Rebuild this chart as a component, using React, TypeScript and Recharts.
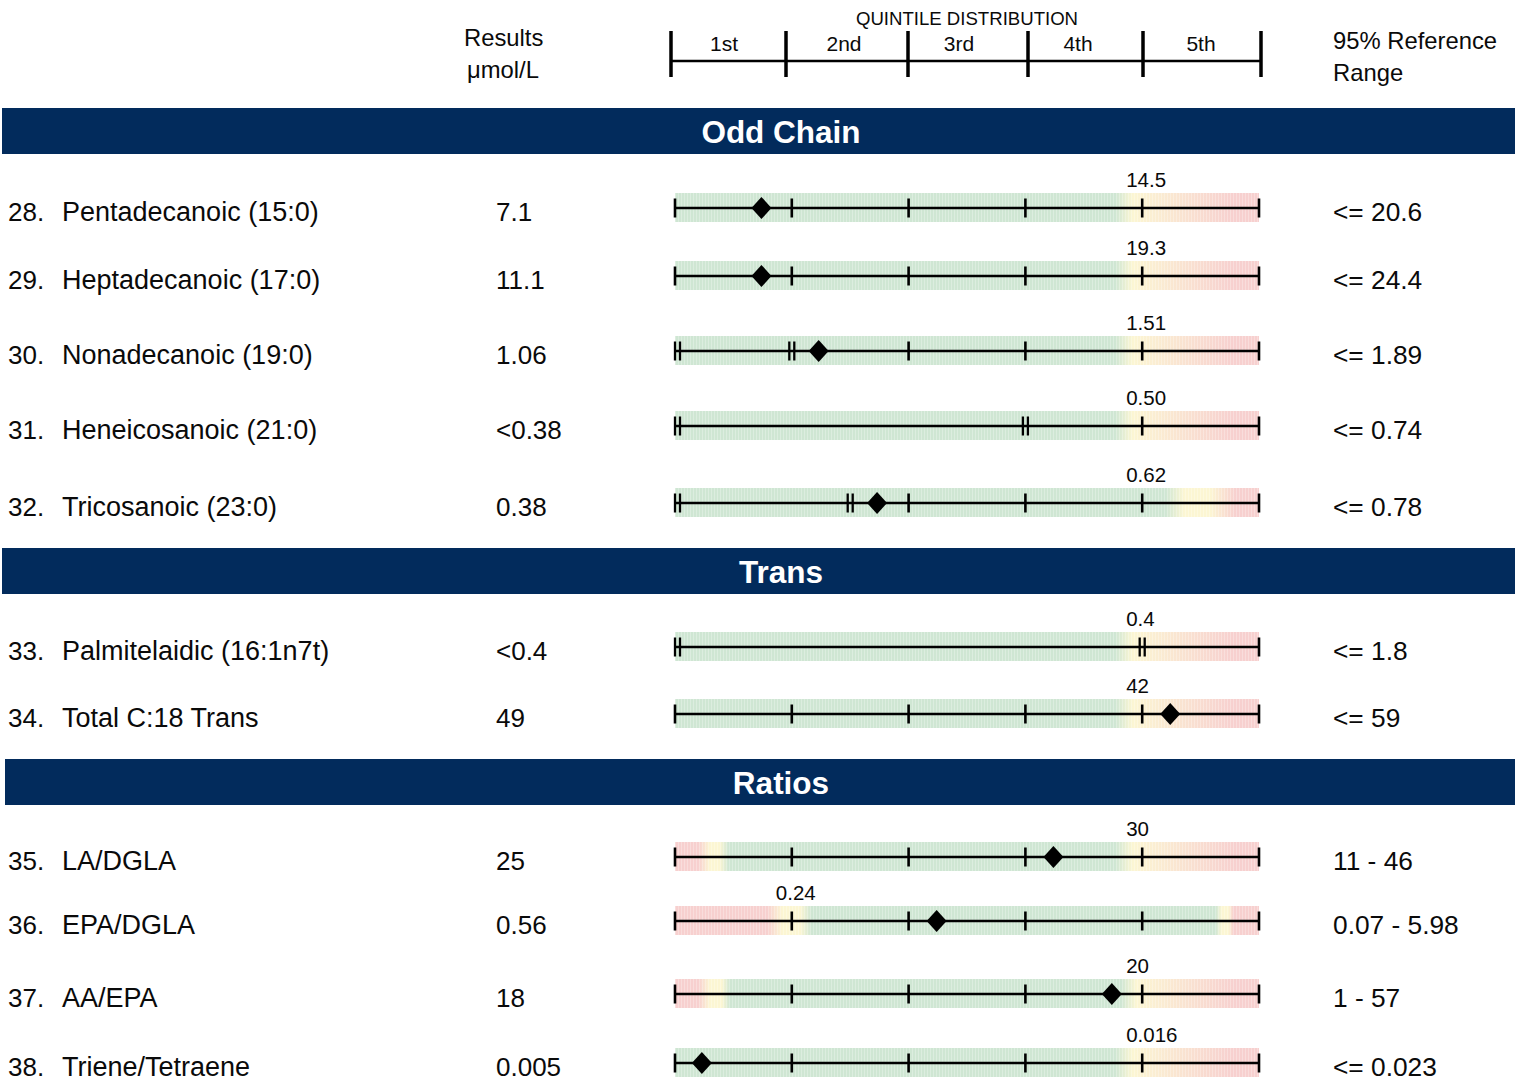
import React from 'react';
import { ComposedChart, XAxis, YAxis, Scatter, ReferenceArea, ReferenceLine } from 'recharts';

// ---------- data ----------
const ROW_NUMBERS = [28, 29, 30, 31, 32, 33, 34, 35, 36, 37, 38];
const ANALYTES = [
  'Pentadecanoic (15:0)',
  'Heptadecanoic (17:0)',
  'Nonadecanoic (19:0)',
  'Heneicosanoic (21:0)',
  'Tricosanoic (23:0)',
  'Palmitelaidic (16:1n7t)',
  'Total C:18 Trans',
  'LA/DGLA',
  'EPA/DGLA',
  'AA/EPA',
  'Triene/Tetraene',
];
const RESULTS = ['7.1', '11.1', '1.06', '<0.38', '0.38', '<0.4', '49', '25', '0.56', '18', '0.005'];
const REF_RANGES = ['<= 20.6', '<= 24.4', '<= 1.89', '<= 0.74', '<= 0.78', '<= 1.8', '<= 59', '11 - 46', '0.07 - 5.98', '1 - 57', '<= 0.023'];
// marker position on the quintile scale (0..5); null = below detection, no marker
const MARKER_POS: (number | null)[] = [0.74, 0.74, 1.23, null, 1.73, null, 4.24, 3.24, 2.24, 3.74, 0.23];
const CUTOFF_LABELS = ['14.5', '19.3', '1.51', '0.50', '0.62', '0.4', '42', '30', '0.24', '20', '0.016'];
const CUTOFF_POS = [4, 4, 4, 4, 4, 4, 4, 4, 1, 4, 4];
// positions of "||" scale breaks
const BREAKS: number[][] = [[], [], [0, 1], [0, 3], [0, 1.5], [0, 4], [], [], [], [], []];
// colour zones along the quintile scale: [position, zone]
type Zone = 'g' | 'y' | 'r';
const ZONES_UPPER: [number, Zone][] = [[0, 'g'], [3.77, 'g'], [3.92, 'y'], [4.78, 'r'], [5, 'r']];
const ZONES_TRICOS: [number, Zone][] = [[0, 'g'], [4.2, 'g'], [4.36, 'y'], [4.58, 'y'], [4.8, 'r'], [5, 'r']];
const ZONES_LADGLA: [number, Zone][] = [[0, 'r'], [0.2, 'r'], [0.3, 'y'], [0.38, 'y'], [0.46, 'g'], [3.77, 'g'], [3.92, 'y'], [4.8, 'r'], [5, 'r']];
const ZONES_EPADGLA: [number, Zone][] = [[0, 'r'], [0.79, 'r'], [0.92, 'y'], [1.07, 'y'], [1.17, 'g'], [4.63, 'g'], [4.68, 'y'], [4.74, 'y'], [4.78, 'r'], [5, 'r']];
const ZONES_AAEPA: [number, Zone][] = [[0, 'r'], [0.2, 'r'], [0.3, 'y'], [0.4, 'y'], [0.47, 'g'], [3.82, 'g'], [3.95, 'y'], [4.8, 'r'], [5, 'r']];
const ROW_ZONES = [ZONES_UPPER, ZONES_UPPER, ZONES_UPPER, ZONES_UPPER, ZONES_TRICOS, ZONES_UPPER, ZONES_UPPER, ZONES_LADGLA, ZONES_EPADGLA, ZONES_AAEPA, ZONES_UPPER];
const QUINTILE_LABELS = ['1st', '2nd', '3rd', '4th', '5th'];
const SECTION_TITLES = ['Odd Chain', 'Trans', 'Ratios'];

// ---------- layout & style ----------
const W = 1515;
const H = 1082;
const BAR_LEFT = 675;
const BAR_RIGHT = 1259;
const ROW_LINE_Y = [208, 276, 351, 426, 503, 647, 714, 857, 921, 994, 1063];
const SECTION_BARS = [
  { x: 2, y: 108 },
  { x: 2, y: 548 },
  { x: 5, y: 759 },
];
const SECTION_H = 46;
const TITLE_CX = 781;
const HEADER_TICKS_X = [671, 786, 908, 1028, 1143, 1261];
const HEADER_LABEL_CX = [724, 844, 959, 1078, 1201];
const FONT = '"Liberation Sans", Arial, Helvetica, sans-serif';
const NAVY = '#022b5c';
const INK = '#0a0a0a';
const ZONE_COLORS: Record<Zone, string> = { g: '#cfe6d3', y: '#fcf6d3', r: '#f7d0cf' };

// ---------- derived series ----------
const rowData = ROW_NUMBERS.map((num, i) => ({
  x: 0,
  y: ROW_LINE_Y[i],
  num,
  name: ANALYTES[i],
  result: RESULTS[i],
  range: REF_RANGES[i],
}));

const markerData = MARKER_POS.map((p, i) => (p === null ? null : { x: p, y: ROW_LINE_Y[i] })).filter(
  (d): d is { x: number; y: number } => d !== null
);

const cutoffData = CUTOFF_LABELS.map((t, i) => ({ x: CUTOFF_POS[i], y: ROW_LINE_Y[i], text: t }));

const tickData: { x: number; y: number; double: boolean }[] = [];
BREAKS.forEach((br, i) => {
  const last = br.length ? Math.max(...br) : -1;
  br.forEach((b) => tickData.push({ x: b, y: ROW_LINE_Y[i], double: true }));
  for (let k = 0; k <= 5; k++) {
    if (k > last) tickData.push({ x: k, y: ROW_LINE_Y[i], double: false });
  }
});

// ---------- shapes ----------
const TickShape = (props: any) => {
  const { cx, cy, payload } = props;
  if (cx == null || cy == null) return null;
  if (payload.double) {
    const base = payload.x === 0 ? cx + 2.5 : cx;
    return (
      <g stroke="#000" strokeWidth={2.3}>
        <line x1={base - 2.5} x2={base - 2.5} y1={cy - 9.5} y2={cy + 9.5} />
        <line x1={base + 2.5} x2={base + 2.5} y1={cy - 9.5} y2={cy + 9.5} />
      </g>
    );
  }
  return <line x1={cx} x2={cx} y1={cy - 9.5} y2={cy + 9.5} stroke="#000" strokeWidth={2.6} />;
};

const DiamondShape = (props: any) => {
  const { cx, cy } = props;
  if (cx == null || cy == null) return null;
  return <polygon points={`${cx},${cy - 11} ${cx + 10},${cy} ${cx},${cy + 11} ${cx - 10},${cy}`} fill="#000" />;
};

const CutoffShape = (props: any) => {
  const { cx, cy, payload } = props;
  if (cx == null || cy == null) return null;
  return (
    <text x={cx - 16} y={cy - 21} fontFamily={FONT} fontSize={20.5} fill={INK}>
      {payload.text}
    </text>
  );
};

const RowTextShape = (props: any) => {
  const { cy, payload } = props;
  if (cy == null) return null;
  const y = cy + 13;
  return (
    <g fontFamily={FONT} fill={INK}>
      <text x={8} y={y} fontSize={26}>{`${payload.num}.`}</text>
      <text x={62} y={y} fontSize={27}>{payload.name}</text>
      <text x={496} y={y} fontSize={26}>{payload.result}</text>
      <text x={1333} y={y} fontSize={26.3}>{payload.range}</text>
    </g>
  );
};

const Overlay = () => (
  <svg width={W} height={H} style={{ position: 'absolute', left: 0, top: 0, pointerEvents: 'none' }}>
    <g fontFamily={FONT} fill={INK}>
      <text x={464} y={46} fontSize={23.8}>Results</text>
      <text x={467} y={78} fontSize={23.8}>μmol/L</text>
      <text x={1333} y={49} fontSize={23.8}>95% Reference</text>
      <text x={1333} y={81} fontSize={23.8}>Range</text>
      <text x={967} y={25} fontSize={18.6} textAnchor="middle">QUINTILE DISTRIBUTION</text>
      {QUINTILE_LABELS.map((q, i) => (
        <text key={q} x={HEADER_LABEL_CX[i]} y={51} fontSize={21} textAnchor="middle">
          {q}
        </text>
      ))}
    </g>
    <g stroke="#000">
      {HEADER_TICKS_X.map((x) => (
        <line key={x} x1={x} x2={x} y1={31} y2={77} strokeWidth={3.5} />
      ))}
      <line x1={HEADER_TICKS_X[0]} x2={HEADER_TICKS_X[5]} y1={61} y2={61} strokeWidth={2.6} />
    </g>
    {SECTION_BARS.map((s, i) => (
      <g key={i}>
        <rect x={s.x} y={s.y} width={W - s.x} height={SECTION_H} fill={NAVY} />
        <text
          x={TITLE_CX}
          y={s.y + 35}
          fontFamily={FONT}
          fontSize={31.5}
          fontWeight="bold"
          fill="#ffffff"
          textAnchor="middle"
        >
          {SECTION_TITLES[i]}
        </text>
      </g>
    ))}
  </svg>
);

export default function App() {
  return (
    <div style={{ position: 'absolute', left: 0, top: 0, width: W, height: H, background: '#fff' }}>
      <Overlay />
      <div style={{ position: 'absolute', left: 0, top: 0 }}>
        <ComposedChart
          width={W}
          height={H}
          margin={{ top: 0, right: W - BAR_RIGHT, bottom: 0, left: BAR_LEFT }}
        >
          <defs>
            {ROW_ZONES.map((zones, i) => (
              <linearGradient key={i} id={`band${i}`} x1="0" x2="1" y1="0" y2="0">
                {zones.map(([p, z], j) => (
                  <stop key={j} offset={p / 5} stopColor={ZONE_COLORS[z]} />
                ))}
              </linearGradient>
            ))}
            <pattern id="stripes" patternUnits="userSpaceOnUse" width={3} height={10}>
              <rect x={0} y={0} width={1} height={10} fill="#ffffff" fillOpacity={0.28} />
            </pattern>
          </defs>
          <XAxis type="number" dataKey="x" domain={[0, 5]} hide />
          <YAxis type="number" dataKey="y" domain={[0, H]} reversed hide />
          {ROW_LINE_Y.map((y, i) => (
            <ReferenceArea
              key={`band-${i}`}
              x1={0}
              x2={5}
              y1={y - 15}
              y2={y + 14}
              fill={`url(#band${i})`}
              fillOpacity={1}
              stroke="none"
            />
          ))}
          {ROW_LINE_Y.map((y, i) => (
            <ReferenceArea
              key={`stripe-${i}`}
              x1={0}
              x2={5}
              y1={y - 15}
              y2={y + 14}
              fill="url(#stripes)"
              fillOpacity={1}
              stroke="none"
            />
          ))}
          {ROW_LINE_Y.map((y, i) => (
            <ReferenceLine
              key={`line-${i}`}
              segment={[
                { x: 0, y },
                { x: 5, y },
              ]}
              stroke="#000"
              strokeWidth={2.6}
            />
          ))}
          <Scatter data={tickData} shape={TickShape} isAnimationActive={false} />
          <Scatter data={markerData} shape={DiamondShape} isAnimationActive={false} />
          <Scatter data={cutoffData} shape={CutoffShape} isAnimationActive={false} />
          <Scatter data={rowData} shape={RowTextShape} isAnimationActive={false} />
        </ComposedChart>
      </div>
    </div>
  );
}
